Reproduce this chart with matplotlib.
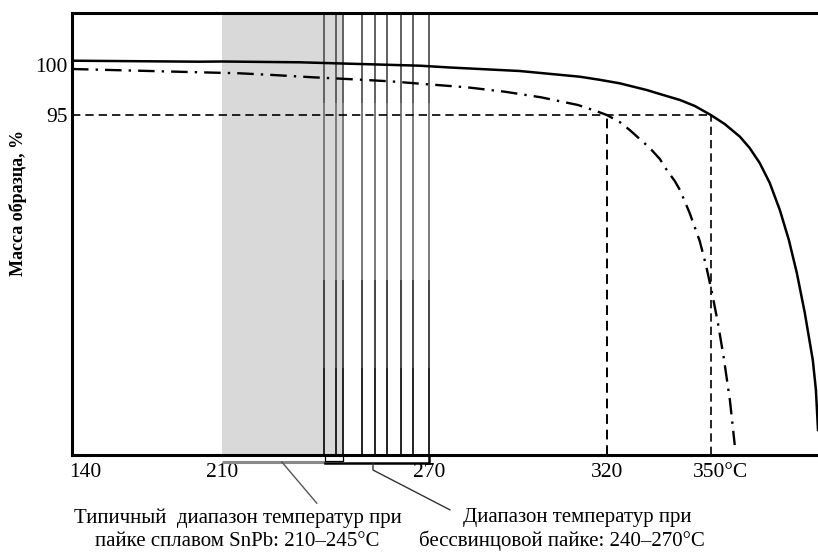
import numpy as np
import matplotlib
matplotlib.use('Agg')
import matplotlib.pyplot as plt
import matplotlib.transforms as mtransforms

plt.rcParams['font.family'] = ['Liberation Serif', 'DejaVu Serif']

# sample mass (%) vs temperature (degC)
temp_solid = [133.4, 198.7, 210, 232.6, 267.4, 275.9, 295.5, 312.4, 318.0, 323.7,
              331.5, 335.3, 341.1, 345.4, 350, 354.0, 358.4, 361.2, 364.1, 367.0,
              369.9, 372.5, 374.8, 377.1, 379.4, 380.3, 380.9]
mass_solid = [100.43, 100.33, 100.35, 100.27, 99.93, 99.75, 99.4, 98.83, 98.52, 98.17,
              97.5, 97.1, 96.5, 95.9, 95.0, 94.1, 92.83, 91.7, 90.2, 88.2,
              85.5, 82.5, 79.2, 75.2, 70.5, 67.5, 63.5]

temp_dashdot = [133.4, 198.7, 215.2, 224.8, 236.4, 248.0, 258.7, 269.7, 280.7, 291.3,
                301.5, 311.9, 317.5, 320, 323.7, 326.6, 329.5, 332.4, 335.3, 337.3,
                339.6, 341.1, 343.9, 346.8, 348.6, 350.3, 352.0, 353.7, 355.5, 356.9]
mass_dashdot = [99.6, 99.27, 99.17, 99.0, 98.77, 98.57, 98.37, 98.07, 97.77, 97.33,
                96.77, 96.0, 95.33, 95.0, 94.3, 93.5, 92.6, 91.7, 90.6, 89.5,
                88.4, 87.5, 85.2, 82.4, 80.0, 77.3, 74.3, 70.8, 66.5, 62.0]

# soldering ranges
snpb_range = (210, 245)
leadfree_range = (240, 270)
leadfree_lines = [239.5, 243, 245, 250.5, 254.5, 258, 262, 265.5, 270]

mass_level = 95
t_dashdot_95 = 320
t_solid_95 = 350

xticks = [140, 210, 270, 320, 350]
xtick_labels = ['140', '210', '270', '320', '350°C']
yticks = [95, 100]
ytick_labels = ['95', '100']

label_snpb = ['Типичный  диапазон температур при', 'пайке сплавом SnPb: 210–245°C']
label_leadfree = ['Диапазон температур при', 'бессвинцовой пайке: 240–270°C']

# schematic (non-uniform) temperature axis
t_knots = [130, 140, 210, 270, 320, 350, 390]
p_knots = [65.4, 85, 222, 429, 607, 711, 849.8]

def fwd(t):
    return np.interp(t, t_knots, p_knots)

def inv(p):
    return np.interp(p, p_knots, t_knots)

xmin, xmax = 133.4, 380.9
ymin, ymax = 61.0, 105.2

fig = plt.figure(figsize=(8.18, 5.52), dpi=100)
ax = fig.add_axes([72 / 818, 1 - 455 / 552, 746 / 818, 442 / 552])
ax.set_xscale('function', functions=(fwd, inv))
ax.set_xlim(xmin, xmax)
ax.set_ylim(ymin, ymax)

# shaded SnPb range and hatched lead-free range
ax.axvspan(*snpb_range, color='#d9d9d9', lw=0, zorder=0)
# the scanned lines change shade along their length
shade_bands = [(0.0, 0.197, '#222222'), (0.197, 0.396, '#444444'),
               (0.396, 0.796, '#7a7a7a'), (0.796, 1.0, '#606060')]
for t in leadfree_lines:
    for y0, y1, c in shade_bands:
        ax.axvline(t, ymin=y0, ymax=y1, color=c, lw=1.4, zorder=1,
                   solid_capstyle='butt')

# 95 % reference lines
ax.plot([xmin, t_solid_95], [mass_level, mass_level], color='black', lw=1.2,
        dashes=(5, 3), zorder=2)
ax.plot([t_dashdot_95, t_dashdot_95], [ymin, mass_level], color='black', lw=1.4,
        dashes=(5, 3), zorder=2)
ax.plot([t_solid_95, t_solid_95], [ymin, mass_level], color='black', lw=1.2,
        dashes=(5, 3), zorder=2)

# curves
ax.plot(temp_solid, mass_solid, color='black', lw=1.8, zorder=3)
ax.plot(temp_dashdot, mass_dashdot, color='black', lw=1.7,
        dashes=(7, 3, 1, 3), zorder=3)

# axes styling
for side in ['left', 'top', 'bottom']:
    ax.spines[side].set_linewidth(2.2)
ax.spines['right'].set_visible(False)
ax.set_xticks(xticks)
ax.set_xticklabels(xtick_labels, fontsize=15.5)
ax.set_yticks(yticks)
ax.set_yticklabels(ytick_labels, fontsize=15.5)
ax.tick_params(axis='both', length=0)
ax.tick_params(axis='x', pad=6)
ax.tick_params(axis='y', pad=3)
ax.minorticks_off()

# keep "350" under its line, with °C trailing
lab = ax.get_xticklabels()[-1]
lab.set_horizontalalignment('left')
lab.set_transform(lab.get_transform() +
                  mtransforms.ScaledTranslation(-0.175, 0, fig.dpi_scale_trans))

fig.text(18 / 818, 1 - 203 / 552, 'Масса образца, %', rotation=90,
         fontsize=13, fontweight='bold', ha='center', va='center')

# range bars under the axis and leader lines
tr = mtransforms.blended_transform_factory(ax.transData, ax.transAxes)
ax.plot([snpb_range[0], leadfree_range[0]], [-0.015, -0.015], color='#888888',
        lw=2.2, transform=tr, clip_on=False, solid_capstyle='butt')
ax.plot([leadfree_range[0], leadfree_range[1], leadfree_range[1]],
        [-0.019, -0.019, 0], color='black', lw=1.8, transform=tr, clip_on=False)
ax.plot([leadfree_range[0], leadfree_range[0], snpb_range[1], snpb_range[1]],
        [0, -0.014, -0.014, 0], color='black', lw=0.9, transform=tr, clip_on=False)
ax.plot([227.4, 237.5], [-0.016, -0.109], color='#555555', lw=1.0,
        transform=tr, clip_on=False)
ax.plot([253.8, 253.8, 275.9], [-0.019, -0.034, -0.124], color='#333333', lw=1.0,
        transform=tr, clip_on=False)

ax.text(214.5, -0.142, label_snpb[0], transform=tr, ha='center', va='center',
        fontsize=15)
ax.text(214.5, -0.195, label_snpb[1], transform=tr, ha='center', va='center',
        fontsize=15)
ax.text(311.6, -0.142, label_leadfree[0], transform=tr, ha='center', va='center',
        fontsize=15)
ax.text(307.4, -0.195, label_leadfree[1], transform=tr, ha='center', va='center',
        fontsize=15)

fig.savefig('out.png', dpi=100)
